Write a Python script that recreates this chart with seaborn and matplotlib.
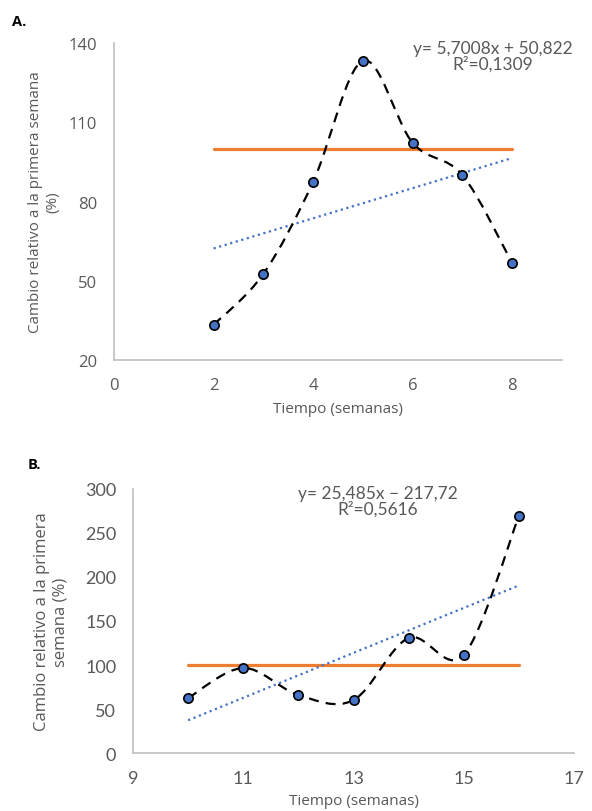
import numpy as np
import pandas as pd
import matplotlib
matplotlib.use("Agg")
import matplotlib.pyplot as plt
from matplotlib.path import Path
from matplotlib.patches import PathPatch
import seaborn as sns

# panel A data
weeks_a = [2, 3, 4, 5, 6, 7, 8]
change_a = [33.3, 52.6, 87.4, 133.3, 102.2, 90.0, 56.7]
ref_a = [100, 100]
ref_x_a = [2, 8]
eq_a = "y= 5,7008x + 50,822"
r2_a = "R²=0,1309"

# panel B data
weeks_b = [10, 11, 12, 13, 14, 15, 16]
change_b = [62.5, 96.6, 65.9, 60.2, 130.7, 111.4, 269.3]
ref_b = [100, 100]
ref_x_b = [10, 16]
eq_b = "y= 25,485x − 217,72"
r2_b = "R²=0,5616"

GREY = "#595959"
BLUE = "#4472C4"
ORANGE = "#ED7D31"

sns.set_theme(style="white")
plt.rcParams["font.family"] = ["Open Sans", "DejaVu Sans"]


def smooth_path(xs, ys):
    """Excel-like smoothed line: cubic Bezier through the points."""
    pts = np.column_stack([xs, ys]).astype(float)
    n = len(pts)
    verts = [pts[0]]
    codes = [Path.MOVETO]
    for i in range(n - 1):
        p0 = pts[max(i - 1, 0)]
        p1 = pts[i]
        p2 = pts[i + 1]
        p3 = pts[min(i + 2, n - 1)]
        c1 = p1 + (p2 - p0) / 6
        c2 = p2 - (p3 - p1) / 6
        verts += [c1, c2, p2]
        codes += [Path.CURVE4] * 3
    return Path(verts, codes)


def draw_panel(ax, weeks, change, ref_x, ref_y, eq, r2, eq_pos):
    df = pd.DataFrame({"x": weeks, "y": change})
    patch = PathPatch(smooth_path(weeks, change), fill=False, edgecolor="black",
                      lw=1.6, linestyle=(0, (4.5, 3.2)), zorder=3)
    ax.add_patch(patch)
    sns.lineplot(x=ref_x, y=ref_y, ax=ax, color=ORANGE, lw=2.3, zorder=2)
    sns.regplot(data=df, x="x", y="y", ax=ax, scatter=False, ci=None, truncate=True,
                line_kws={"color": BLUE, "lw": 1.6, "linestyle": (0, (1, 1.6)), "zorder": 2})
    sns.scatterplot(data=df, x="x", y="y", ax=ax, color=BLUE, edgecolor="black",
                    linewidth=1.2, s=45, zorder=4)
    ax.text(eq_pos[0], eq_pos[1], eq + "\n" + r2, ha="center", va="center",
            color=GREY, fontsize=12.5, linespacing=1.0,
            transform=ax.transAxes, family=["Lato", "DejaVu Sans"])
    for s in ["top", "right"]:
        ax.spines[s].set_visible(False)
    for s in ["left", "bottom"]:
        ax.spines[s].set_color("#BFBFBF")
        ax.spines[s].set_linewidth(1.2)
    ax.tick_params(colors=GREY, labelsize=12, length=0, pad=12)
    ax.grid(False)


fig = plt.figure(figsize=(5.92, 8.12), dpi=100)

ax_a = fig.add_axes([0.1926, 0.5554, 0.7567, 0.3904])
draw_panel(ax_a, weeks_a, change_a, ref_x_a, ref_a, eq_a, r2_a, (0.845, 0.96))
ax_a.set_xlim(0, 9)
ax_a.set_ylim(20, 140)
ax_a.set_xticks([0, 2, 4, 6, 8])
ax_a.set_yticks([20, 50, 80, 110, 140])
ax_a.set_xlabel("Tiempo (semanas)", color=GREY, fontsize=11, labelpad=6)
ax_a.set_ylabel("Cambio relativo a la primera semana\n(%)", color=GREY, fontsize=11,
                linespacing=1.25, labelpad=6)

ax_b = fig.add_axes([0.2247, 0.0714, 0.7449, 0.3252])
draw_panel(ax_b, weeks_b, change_b, ref_x_b, ref_b, eq_b, r2_b, (0.555, 0.955))
ax_b.set_xlim(9, 17)
ax_b.set_ylim(0, 300)
ax_b.set_xticks([9, 11, 13, 15, 17])
ax_b.set_yticks([0, 50, 100, 150, 200, 250, 300])
ax_b.tick_params(labelsize=13)
for lab in ax_b.get_xticklabels() + ax_b.get_yticklabels():
    lab.set_family(["Lato", "DejaVu Sans"])
ax_b.set_xlabel("Tiempo (semanas)", color=GREY, fontsize=11, labelpad=5)
ax_b.set_ylabel("Cambio relativo a la primera\nsemana (%)", color=GREY, fontsize=12,
                linespacing=1.2, labelpad=12)

fig.text(0.02, 0.968, "A.", fontsize=10.5, fontweight="bold", color="black")
fig.text(0.047, 0.423, "B.", fontsize=10.5, fontweight="bold", color="black")

fig.savefig("out.png", dpi=100)
